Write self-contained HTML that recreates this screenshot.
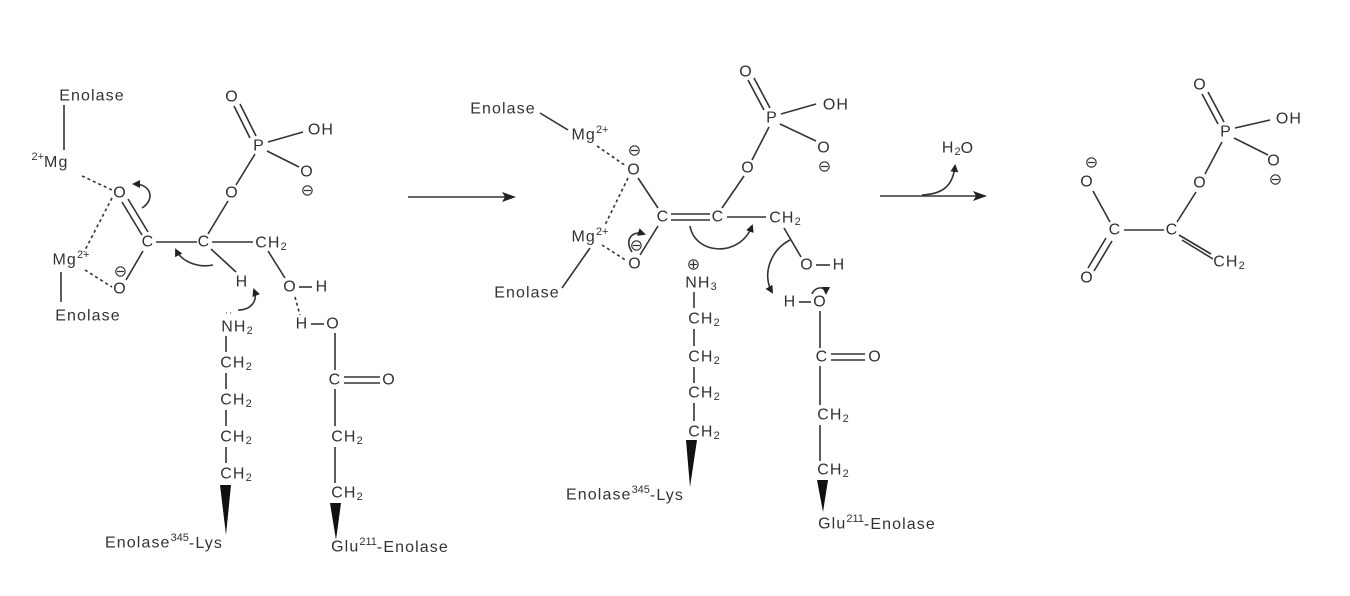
<!DOCTYPE html>
<html><head><meta charset="utf-8"><style>
html,body{margin:0;padding:0;background:#fff;width:1350px;height:596px;overflow:hidden}
svg{display:block}
text{font-family:"Liberation Sans",sans-serif;font-size:16px;letter-spacing:1.1px;fill:#333}
.s{font-size:11px;letter-spacing:0}
line,path.b{stroke:#333;stroke-width:1.6;fill:none}
.d{stroke-dasharray:3 3}
</style></head><body>
<svg width="1350" height="596" viewBox="0 0 1350 596" xmlns="http://www.w3.org/2000/svg">
<defs>
<marker id="ah" markerWidth="8" markerHeight="8" refX="6" refY="4" orient="auto" markerUnits="userSpaceOnUse"><path d="M0,0 L8,4 L0,8 Z" fill="#222"/></marker>
<marker id="ab" markerWidth="14" markerHeight="10" refX="12" refY="5" orient="auto" markerUnits="userSpaceOnUse"><path d="M0,0 L14,5 L0,10 L3,5 Z" fill="#222"/></marker>
</defs>
<g text-anchor="middle" dominant-baseline="central">
<!-- LEFT -->
<text x="92" y="96">Enolase</text>
<line x1="64" y1="105" x2="64" y2="150"/>
<text x="50" y="162"><tspan class="s" dy="-5">2+</tspan><tspan dy="5">Mg</tspan></text>
<line class="d" x1="82" y1="176" x2="112" y2="190"/>
<text x="120" y="193">O</text>
<line x1="122" y1="202" x2="142" y2="235"/><line x1="128" y1="199" x2="148" y2="232"/>
<text x="148" y="242">C</text>
<line x1="156" y1="242" x2="197" y2="242"/>
<text x="204" y="242">C</text>
<line x1="208" y1="234" x2="228" y2="201"/>
<text x="232" y="193">O</text>
<line x1="236" y1="185" x2="255" y2="154"/>
<text x="259" y="146">P</text>
<line x1="250" y1="138" x2="234" y2="106"/><line x1="256" y1="136" x2="240" y2="104"/>
<text x="232" y="97">O</text>
<line x1="268" y1="142" x2="303" y2="132"/>
<text x="321" y="130">OH</text>
<line x1="267" y1="151" x2="299" y2="167"/>
<text x="307" y="172">O</text><text x="308" y="191">⊖</text>
<line x1="212" y1="242" x2="253" y2="242"/>
<text x="271" y="243">CH<tspan class="s" dy="4">2</tspan></text>
<line x1="268" y1="251" x2="285" y2="278"/>
<text x="290" y="287">O</text>
<line x1="299" y1="287" x2="312" y2="287"/>
<text x="322" y="287">H</text>
<line x1="211" y1="249" x2="236" y2="272"/>
<text x="242" y="282">H</text>
<path class="b" d="M213,265 C198,268 182,262 176,250" marker-end="url(#ah)"/>
<path class="b" d="M142,208 C155,200 152,184 134,184" marker-end="url(#ah)"/>
<line x1="143" y1="251" x2="126" y2="280"/>
<text x="120" y="289">O</text><text x="121" y="272">⊖</text>
<text x="71" y="260">Mg<tspan class="s" dy="-5">2+</tspan></text>
<line class="d" x1="85" y1="270" x2="112" y2="287"/>
<line class="d" x1="112" y1="198" x2="84" y2="252"/>
<line x1="61" y1="272" x2="61" y2="302"/>
<text x="88" y="316">Enolase</text>
<line class="d" x1="295" y1="297" x2="300" y2="315"/>
<text x="302" y="324">H</text>
<line x1="311" y1="324" x2="324" y2="324"/>
<text x="333" y="324">O</text>
<text x="237" y="327">NH<tspan class="s" dy="4">2</tspan></text>
<text x="229" y="313" style="font-size:10px">··</text>
<path class="b" d="M238,310 C252,310 258,300 254,290" marker-end="url(#ah)"/>
<line x1="226" y1="336" x2="226" y2="352"/><text x="236" y="363">CH<tspan class="s" dy="4">2</tspan></text>
<line x1="226" y1="373" x2="226" y2="389"/><text x="236" y="400">CH<tspan class="s" dy="4">2</tspan></text>
<line x1="226" y1="410" x2="226" y2="426"/><text x="236" y="437">CH<tspan class="s" dy="4">2</tspan></text>
<line x1="226" y1="447" x2="226" y2="463"/><text x="236" y="474">CH<tspan class="s" dy="4">2</tspan></text>
<path d="M220,485 L231,485 L226,535 Z" fill="#111"/>
<text x="164" y="543">Enolase<tspan class="s" dy="-5">345</tspan><tspan dy="5">-Lys</tspan></text>
<line x1="335" y1="333" x2="335" y2="370"/>
<text x="335" y="380">C</text>
<line x1="344" y1="377" x2="380" y2="377"/><line x1="344" y1="383" x2="380" y2="383"/>
<text x="389" y="380">O</text>
<line x1="335" y1="389" x2="335" y2="426"/>
<text x="347" y="437">CH<tspan class="s" dy="4">2</tspan></text>
<line x1="335" y1="447" x2="335" y2="483"/>
<text x="347" y="493">CH<tspan class="s" dy="4">2</tspan></text>
<path d="M330,503 L341,503 L336,540 Z" fill="#111"/>
<text x="390" y="547">Glu<tspan class="s" dy="-5">211</tspan><tspan dy="5">-Enolase</tspan></text>
<!-- arrow 1 -->
<line x1="408" y1="197" x2="514" y2="197" marker-end="url(#ab)"/>
<!-- MIDDLE -->
<text x="503" y="109">Enolase</text>
<line x1="540" y1="113" x2="568" y2="130"/>
<text x="590" y="135">Mg<tspan class="s" dy="-5">2+</tspan></text>
<line class="d" x1="597" y1="146" x2="626" y2="166"/>
<text x="634" y="170">O</text><text x="635" y="151">⊖</text>
<line x1="638" y1="178" x2="658" y2="208"/>
<text x="663" y="217">C</text>
<line x1="671" y1="214" x2="710" y2="214"/><line x1="671" y1="220" x2="710" y2="220"/>
<text x="718" y="217">C</text>
<line x1="722" y1="208" x2="744" y2="176"/>
<text x="748" y="168">O</text>
<line x1="752" y1="160" x2="769" y2="127"/>
<text x="772" y="118">P</text>
<line x1="764" y1="110" x2="748" y2="80"/><line x1="770" y1="108" x2="754" y2="78"/>
<text x="746" y="72">O</text>
<line x1="781" y1="114" x2="816" y2="104"/>
<text x="836" y="105">OH</text>
<line x1="780" y1="124" x2="816" y2="141"/>
<text x="824" y="148">O</text><text x="825" y="167">⊖</text>
<line x1="727" y1="217" x2="766" y2="217"/>
<text x="785" y="218">CH<tspan class="s" dy="4">2</tspan></text>
<line x1="658" y1="226" x2="640" y2="255"/>
<text x="635" y="264">O</text><text x="637" y="246">⊖</text>
<path class="b" d="M632,252 C624,240 632,230 644,234" marker-end="url(#ah)"/>
<text x="590" y="237">Mg<tspan class="s" dy="-5">2+</tspan></text>
<line class="d" x1="628" y1="178" x2="605" y2="225"/>
<line class="d" x1="602" y1="245" x2="627" y2="261"/>
<line x1="590" y1="248" x2="562" y2="288"/>
<text x="527" y="293">Enolase</text>
<path class="b" d="M690,226 C695,255 740,258 752,226" marker-end="url(#ah)"/>
<text x="694" y="265">⊕</text>
<text x="701" y="283">NH<tspan class="s" dy="4">3</tspan></text>
<line x1="694" y1="292" x2="694" y2="308"/><text x="704" y="319">CH<tspan class="s" dy="4">2</tspan></text>
<line x1="694" y1="329" x2="694" y2="346"/><text x="704" y="357">CH<tspan class="s" dy="4">2</tspan></text>
<line x1="694" y1="367" x2="694" y2="383"/><text x="704" y="393">CH<tspan class="s" dy="4">2</tspan></text>
<line x1="694" y1="403" x2="694" y2="421"/><text x="704" y="432">CH<tspan class="s" dy="4">2</tspan></text>
<path d="M686,440 L697,440 L690,487 Z" fill="#111"/>
<text x="625" y="495">Enolase<tspan class="s" dy="-5">345</tspan><tspan dy="5">-Lys</tspan></text>
<line x1="784" y1="228" x2="801" y2="257"/>
<text x="807" y="265">O</text>
<line x1="816" y1="265" x2="830" y2="265"/>
<text x="839" y="265">H</text>
<path class="b" d="M790,240 C770,250 762,275 772,292" marker-end="url(#ah)"/>
<text x="790" y="302">H</text>
<line x1="799" y1="302" x2="811" y2="302"/>
<text x="820" y="302">O</text>
<path class="b" d="M812,294 C815,286 826,286 826,293" marker-end="url(#ah)"/>
<line x1="820" y1="311" x2="820" y2="348"/>
<text x="822" y="357">C</text>
<line x1="831" y1="354" x2="865" y2="354"/><line x1="831" y1="360" x2="865" y2="360"/>
<text x="875" y="357">O</text>
<line x1="820" y1="366" x2="820" y2="405"/>
<text x="833" y="415">CH<tspan class="s" dy="4">2</tspan></text>
<line x1="820" y1="425" x2="820" y2="461"/>
<text x="833" y="470">CH<tspan class="s" dy="4">2</tspan></text>
<path d="M817,480 L828,480 L823,512 Z" fill="#111"/>
<text x="877" y="524">Glu<tspan class="s" dy="-5">211</tspan><tspan dy="5">-Enolase</tspan></text>
<!-- arrow 2 -->
<line x1="880" y1="196" x2="985" y2="196" marker-end="url(#ab)"/>
<path class="b" d="M922,195 C945,194 953,184 955,166" marker-end="url(#ah)"/>
<text x="958" y="148">H<tspan class="s" dy="4">2</tspan><tspan dy="-4">O</tspan></text>
<!-- RIGHT -->
<text x="1092" y="163">⊖</text>
<text x="1087" y="182">O</text>
<line x1="1093" y1="191" x2="1110" y2="222"/>
<text x="1115" y="230">C</text>
<line x1="1124" y1="230" x2="1164" y2="230"/>
<text x="1172" y="230">C</text>
<line x1="1106" y1="238" x2="1088" y2="268"/><line x1="1112" y1="241" x2="1094" y2="271"/>
<text x="1087" y="278">O</text>
<line x1="1177" y1="222" x2="1196" y2="192"/>
<text x="1200" y="183">O</text>
<line x1="1205" y1="174" x2="1222" y2="142"/>
<text x="1226" y="132">P</text>
<line x1="1218" y1="124" x2="1202" y2="94"/><line x1="1224" y1="122" x2="1208" y2="92"/>
<text x="1200" y="85">O</text>
<line x1="1235" y1="128" x2="1270" y2="120"/>
<text x="1289" y="119">OH</text>
<line x1="1234" y1="138" x2="1268" y2="155"/>
<text x="1274" y="161">O</text><text x="1276" y="180">⊖</text>
<line x1="1179" y1="235" x2="1211" y2="254"/><line x1="1182" y1="240" x2="1213" y2="259"/>
<text x="1229" y="262">CH<tspan class="s" dy="4">2</tspan></text>
</g>
</svg>
</body></html>
